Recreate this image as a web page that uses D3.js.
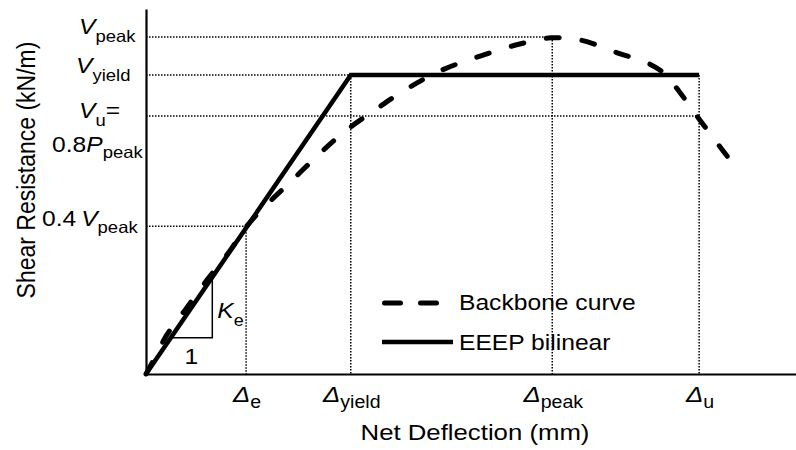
<!DOCTYPE html>
<html>
<head>
<meta charset="utf-8">
<script src="https://cdn.jsdelivr.net/npm/d3@7"></script>
<style>
  body { margin: 0; background: #fff; }
  svg { display: block; font-family: "Liberation Sans", Arial, sans-serif; }
</style>
</head>
<body>
<div id="chart"></div>
<script>
// schematic values (arbitrary units 0..100)
const deltaKeys = ['e', 'yield', 'peak', 'u'];
const deltaValues = [15.4, 31.5, 62.5, 85.1];

const shearKeys = ['peak', 'yield', 'u', 'p04'];
const shearValues = [92.3, 81.9, 70.7, 40.5];

const backboneX = [0, 1.5, 3.2, 6.0, 9.4, 13.0, 15.4, 18.8, 22.2, 26.2, 29.2, 31.5, 35.2, 39.1, 45.2, 51.4, 57.5, 62.3, 66.8, 72.2, 77.5, 79.8, 82.2, 85.2, 90.2];
const backboneY = [0, 4.9, 10.7, 17.5, 25.8, 34.0, 40.3, 46.8, 52.6, 59.5, 64.4, 67.7, 72.3, 77.0, 83.0, 87.1, 90.4, 92.1, 91.5, 88.2, 84.9, 82.2, 77.0, 69.6, 57.8];

const eeepX = [0, 31.5, 85.1];
const eeepY = [0, 81.9, 81.9];

// dotted guides: [shear level, deflection level]
const guides = [['peak', 'peak'], ['yield', 'yield'], ['u', 'u'], ['p04', 'e']];
const verticalGuides = [['e', 'p04'], ['yield', 'yield'], ['peak', 'peak'], ['u', 'yield']];

const keCorner = 10.2;   // deflection of the slope triangle corner
const keLevel = 9.9;     // shear level of the triangle base

const legendItems = ['Backbone curve', 'EEEP bilinear'];

const W = 796, H = 450;
const SX = 1.12;  // text in the source is slightly stretched horizontally

const dx = k => deltaValues[deltaKeys.indexOf(k)];
const sy = k => shearValues[shearKeys.indexOf(k)];

const x = d3.scaleLinear().domain([0, 100]).range([146, 796]);
const y = d3.scaleLinear().domain([0, 100]).range([374, 9]);

const svg = d3.select('#chart').append('svg')
    .attr('width', W)
    .attr('height', H);

svg.append('rect').attr('width', W).attr('height', H).attr('fill', '#fff');

function richText(parts, px, py, opt) {
    const size = opt.size, subSize = opt.subSize || size * 0.72, subDy = opt.subDy || 7;
    const t = svg.append('text')
        .attr('transform', `translate(${px},${py}) scale(${SX},1)`)
        .attr('text-anchor', opt.anchor || 'start')
        .attr('fill', '#000')
        .style('font-size', size + 'px');
    let shift = 0;
    parts.forEach(p => {
        const target = p.sub ? subDy : 0;
        t.append('tspan')
            .attr('dy', target - shift)
            .style('font-style', p.it ? 'italic' : 'normal')
            .style('font-size', (p.sub ? subSize : size) + 'px')
            .text(p.t);
        shift = target;
    });
    return t;
}

// dotted guides
const dotted = svg.append('g')
    .attr('stroke', '#000')
    .attr('stroke-width', 1.5)
    .attr('stroke-dasharray', '1.5 1.5');

guides.forEach(([s, d]) => {
    dotted.append('line')
        .attr('x1', x(0)).attr('x2', x(dx(d)))
        .attr('y1', y(sy(s))).attr('y2', y(sy(s)));
});
verticalGuides.forEach(([d, s]) => {
    dotted.append('line')
        .attr('x1', x(dx(d))).attr('x2', x(dx(d)))
        .attr('y1', y(sy(s))).attr('y2', y(0));
});

// axes
svg.append('g')
    .attr('transform', `translate(0,${y(0)})`)
    .call(d3.axisBottom(x).tickValues([]).tickSizeOuter(0))
    .call(g => g.select('.domain').attr('stroke-width', 2.2));
svg.append('g')
    .attr('transform', `translate(${x(0)},0)`)
    .call(d3.axisLeft(y).tickValues([]).tickSizeOuter(0))
    .call(g => g.select('.domain').attr('stroke-width', 2.2));

// slope triangle
const slope = sy('yield') / dx('yield');
svg.append('path')
    .attr('fill', 'none')
    .attr('stroke', '#000')
    .attr('stroke-width', 1.5)
    .attr('d', d3.line()([
        [x(keLevel / slope), y(keLevel)],
        [x(keCorner), y(keLevel)],
        [x(keCorner), y(slope * keCorner)]
    ]));

// backbone curve
svg.append('path')
    .datum(backboneX.map((v, i) => [v, backboneY[i]]))
    .attr('fill', 'none')
    .attr('stroke', '#000')
    .attr('stroke-width', 5)
    .attr('stroke-linecap', 'round')
    .attr('stroke-dasharray', '13 23')
    .attr('d', d3.line().x(d => x(d[0])).y(d => y(d[1])).curve(d3.curveCatmullRom));

// EEEP bilinear
svg.append('path')
    .datum(eeepX.map((v, i) => [v, eeepY[i]]))
    .attr('fill', 'none')
    .attr('stroke', '#000')
    .attr('stroke-width', 4.5)
    .attr('stroke-linejoin', 'miter')
    .attr('d', d3.line().x(d => x(d[0])).y(d => y(d[1])));

// y level labels
const ys = { size: 22, subSize: 16.5, subDy: 8 };
richText([{ t: 'V', it: true }, { t: 'peak', sub: true }], 79, y(sy('peak')) - 3, ys);
richText([{ t: 'V', it: true }, { t: 'yield', sub: true }], 76, y(sy('yield')) - 2, ys);
richText([{ t: 'V', it: true }, { t: 'u', sub: true }, { t: '=' }], 79, y(sy('u')) + 2, ys);
richText([{ t: '0.8' }, { t: 'P', it: true }, { t: 'peak', sub: true }], 52, y(sy('u')) + 36, { size: 22, subSize: 16.5, subDy: 6 });
richText([{ t: '0.4\u2009' }, { t: 'V', it: true }, { t: 'peak', sub: true }], 42, y(sy('p04')), { size: 22, subSize: 16.5, subDy: 7 });

// x level labels
deltaKeys.forEach((k, i) => {
    richText([{ t: '\u0394', it: true }, { t: k, sub: true }], x(deltaValues[i]) + 1, 402,
        { size: 23, subSize: 17.5, subDy: 6, anchor: 'middle' });
});

// Ke and 1
richText([{ t: 'K', it: true }, { t: 'e', sub: true }], x(keCorner) + 5, 318, { size: 22, subSize: 16, subDy: 8 });
richText([{ t: '1' }], x(keCorner) - 21, 364, { size: 22, anchor: 'middle' });

// axis titles
svg.append('text')
    .attr('transform', `translate(475,440) scale(${SX},1)`)
    .attr('text-anchor', 'middle')
    .style('font-size', '23px')
    .text('Net Deflection (mm)');

svg.append('text')
    .attr('transform', `translate(35,170) rotate(-90) scale(1,${SX})`)
    .attr('text-anchor', 'middle')
    .style('font-size', '23px')
    .text('Shear Resistance (kN/m)');

// legend
const legend = svg.append('g');
legend.append('line')
    .attr('x1', 384.5).attr('x2', 438.5).attr('y1', 303).attr('y2', 303)
    .attr('stroke', '#000').attr('stroke-width', 5)
    .attr('stroke-linecap', 'round').attr('stroke-dasharray', '16 20');
legend.append('line')
    .attr('x1', 382).attr('x2', 453).attr('y1', 342).attr('y2', 342)
    .attr('stroke', '#000').attr('stroke-width', 4.5);
legendItems.forEach((name, i) => {
    legend.append('text')
        .attr('transform', `translate(459,${310 + i * 40}) scale(${SX},1)`)
        .style('font-size', '22px')
        .text(name);
});
</script>
</body>
</html>
